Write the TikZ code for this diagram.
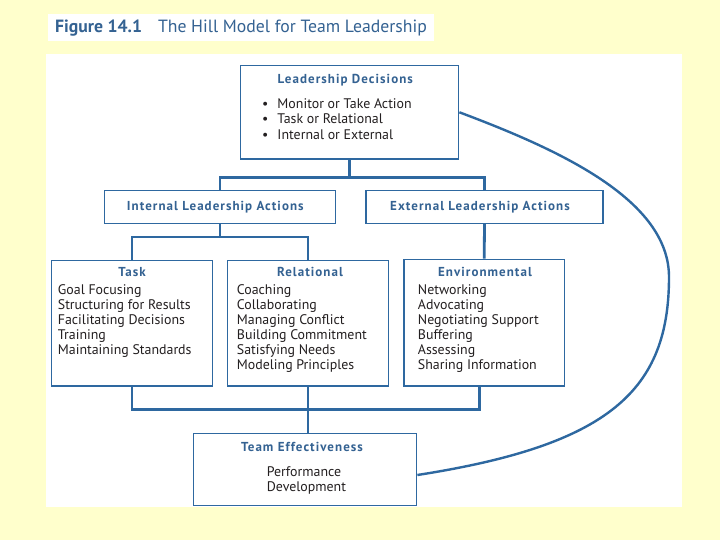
\documentclass[tikz,border=0pt]{standalone}
\usepackage{fontspec}
\setmainfont{PT Sans}
\usepackage{tikz}
\usetikzlibrary{calc}
\definecolor{hillblue}{RGB}{46,104,160}
\definecolor{headblue}{RGB}{52,98,146}
\definecolor{bgyellow}{RGB}{255,255,204}
\definecolor{inktext}{RGB}{35,31,32}

\begin{document}
\begin{tikzpicture}[x=1pt, y=-1pt,
		box/.style={draw=hillblue, line width=1.4pt, fill=white, inner sep=0pt},
		head/.style={font=\bfseries\fontsize{13}{15}\selectfont\addfontfeatures{LetterSpace=8}, text=headblue, inner sep=0pt, anchor=base},
		item/.style={font=\fontsize{13.9}{15}\selectfont, text=inktext, inner sep=0pt, anchor=base west},
		link/.style={draw=hillblue, line width=2.8pt},
		loop/.style={draw=hillblue, line width=2.4pt}]
		\fill[bgyellow] (0,0) rectangle (720,540);
		\useasboundingbox (0,0) rectangle (720,540);
		\fill[white] (46,54) rectangle (682,507);
		
		\node[fill=white, anchor=west, inner xsep=7pt, minimum height=27pt, text=headblue,
			font=\fontsize{17.7}{19}\selectfont] (title) at (48,28) {\textbf{Figure 14.1}\hspace{0.9em}The Hill Model for Team Leadership};
		
		% boxes
		\node[box, minimum width=218, minimum height=93.3] (ld) at (349.7,112.3) {};
		\node[box, minimum width=230.6, minimum height=33] (ila) at (220,206.8) {};
		\node[box, minimum width=237, minimum height=33] (ela) at (484.5,206.8) {};
		\node[box, minimum width=160.6, minimum height=125.7] (task) at (132,323.2) {};
		\node[box, minimum width=160.6, minimum height=125.7] (rel) at (308,323.2) {};
		\node[box, minimum width=160.3, minimum height=126.7] (env) at (484.2,322.7) {};
		\node[box, minimum width=223.4, minimum height=72.4] (te) at (305,469.5) {};
		
		% headings
		\node[head] (ld-h) at (345.3,83.6) {Leadership Decisions};
		\node[head] (ila-h) at (215.3,211) {Internal Leadership Actions};
		\node[head] (ela-h) at (480,211) {External Leadership Actions};
		\node[head] (task-h) at (132,276) {Task};
		\node[head] (rel-h) at (310,276) {Relational};
		\node[head] (env-h) at (485,276) {Environmental};
		\node[head] (te-h) at (302,451.6) {Team Effectiveness};
		
		% lists
		\foreach \t [count=\i] in {Monitor or Take Action, Task or Relational, Internal or External}
		\node[item] (ld-\i) at (277.3, 108.5+15.5*\i-15.5) {\llap{\textbullet\hspace{9pt}}\t};
		\foreach \t [count=\i] in {Goal Focusing, Structuring for Results, Facilitating Decisions, Training, Maintaining Standards}
		\node[item] (task-\i) at (57.7, 294+15.1*\i-15.1) {\t};
		\foreach \t [count=\i] in {Coaching, Collaborating, Managing Conflict, Building Commitment, Satisfying Needs, Modeling Principles}
		\node[item] (rel-\i) at (236.7, 294+15.1*\i-15.1) {\t};
		\foreach \t [count=\i] in {Networking, Advocating, Negotiating Support, Buffering, Assessing, Sharing Information}
		\node[item] (env-\i) at (417.7, 294+15.1*\i-15.1) {\t};
		\node[item] (te-1) at (266.7,476) {Performance};
		\node[item] (te-2) at (266.7,491.3) {Development};
		
		% connectors
		\coordinate (jtop) at (352.7,177.7);
		\coordinate (jmid) at (220,237);
		\coordinate (jbot) at (305.7,409.3);
		\coordinate (envout) at ($(env.south)+(-5,0)$);
		
		\draw[link] (ld.south) -- (ld.south |- jtop);
		\draw[link] (ila.north) |- (ela.north |- jtop) -- (ela.north);
		\draw[link] (ila.south) -- (jmid);
		\draw[link] (task.north) |- (rel.north |- jmid) -- (rel.north);
		\draw[link] (ela.south) -- (env.north);
		\draw[link] (task.south) |- (envout |- jbot) -- (envout);
		\draw[link] (rel.south) -- (rel.south |- te.north);
		
		\draw[loop] (ld.east) .. controls (560,150) and (669,200) .. (669,277)
		.. controls (669,390) and (610,445) .. ($(te.east)+(0,5.5)$);
		
\end{tikzpicture}
\end{document}
